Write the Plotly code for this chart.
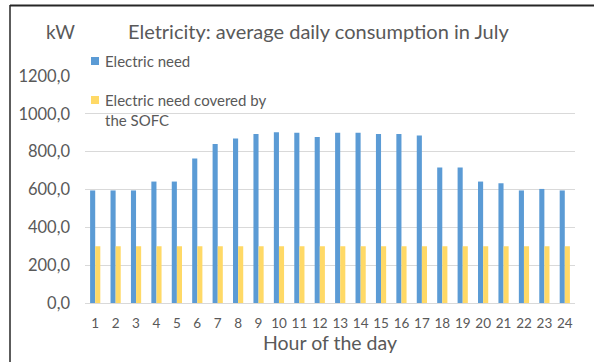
import plotly.graph_objects as go

# Hourly electricity data for July (average day)
hours = [str(h) for h in range(1, 25)]
electric_need = [595, 595, 595, 642, 642, 764, 840, 870, 893, 902, 900, 878,
                 900, 900, 893, 893, 886, 716, 716, 642, 633, 595, 603, 595]
sofc_covered = [300] * 24

y_tickvals = [0, 200, 400, 600, 800, 1000, 1200]
y_ticktext = ["0,0", "200,0", "400,0", "600,0", "800,0", "1000,0", "1200,0"]

BLUE = "#5B9BD5"
YELLOW = "#FFD966"
TEXT = "#595959"
GRID = "#D9D9D9"
FONT = "Lato, Carlito, Calibri, sans-serif"

W, H = 594, 362
L, R, T, B = 85, 19, 76, 59
PW, PH = W - L - R, H - T - B


def px_x(px):
    return (px - L) / PW


def px_y(py):
    return (H - B - py) / PH


fig = go.Figure()
fig.add_trace(go.Bar(x=hours, y=electric_need, name="Electric need",
                     marker=dict(color=BLUE, line=dict(width=0))))
fig.add_trace(go.Bar(x=hours, y=sofc_covered, name="Electric need covered by the SOFC",
                     marker=dict(color=YELLOW, line=dict(width=0))))

fig.update_layout(
    width=W, height=H,
    margin=dict(l=L, r=R, t=T, b=B),
    paper_bgcolor="white", plot_bgcolor="white",
    barmode="group", bargap=0.5, bargroupgap=0,
    showlegend=False,
    font=dict(family=FONT, color=TEXT),
)

fig.update_xaxes(
    type="category", showgrid=False, showline=True, linecolor=GRID, linewidth=1,
    ticks="", tickfont=dict(size=13.5, color=TEXT), ticklabelstandoff=8,
    title=dict(text="Hour of the day", font=dict(size=19.5, color=TEXT), standoff=5),
)
fig.update_yaxes(
    range=[0, 1200], tickvals=y_tickvals, ticktext=y_ticktext,
    showgrid=True, gridcolor=GRID, gridwidth=1, zeroline=False,
    ticks="", tickfont=dict(size=16.5, color=TEXT), ticklabelstandoff=14,
)

annotations = [
    dict(text="Eletricity: average daily consumption in July", x=px_x(318), y=px_y(31),
         xanchor="center", yanchor="middle", font=dict(size=20, color=TEXT)),
    dict(text="kW", x=px_x(60), y=px_y(31), xanchor="center", yanchor="middle",
         font=dict(size=19, color=TEXT)),
    dict(text="Electric need", x=px_x(103), y=px_y(61), xanchor="left", yanchor="middle",
         font=dict(size=15, color=TEXT)),
    dict(text="Electric need covered by<br>the SOFC", x=px_x(103), y=px_y(110),
         xanchor="left", yanchor="middle", align="left",
         font=dict(size=15, color=TEXT)),
]
for a in annotations:
    a.update(xref="paper", yref="paper", showarrow=False)
fig.update_layout(annotations=annotations)

shapes = [
    # legend swatches
    dict(type="rect", x0=px_x(91), x1=px_x(99), y0=px_y(57), y1=px_y(65),
         fillcolor=BLUE, line=dict(width=0)),
    dict(type="rect", x0=px_x(91), x1=px_x(99), y0=px_y(96), y1=px_y(104),
         fillcolor=YELLOW, line=dict(width=0)),
    # chart frame
    dict(type="line", x0=px_x(10), x1=px_x(W + 5), y0=px_y(5.5), y1=px_y(5.5),
         line=dict(color="#262626", width=2)),
    dict(type="line", x0=px_x(10), x1=px_x(10), y0=px_y(5), y1=px_y(H + 5),
         line=dict(color="#262626", width=1.5)),
]
for s in shapes:
    s.update(xref="paper", yref="paper")
fig.update_layout(shapes=shapes)

fig.write_html("out.html")
